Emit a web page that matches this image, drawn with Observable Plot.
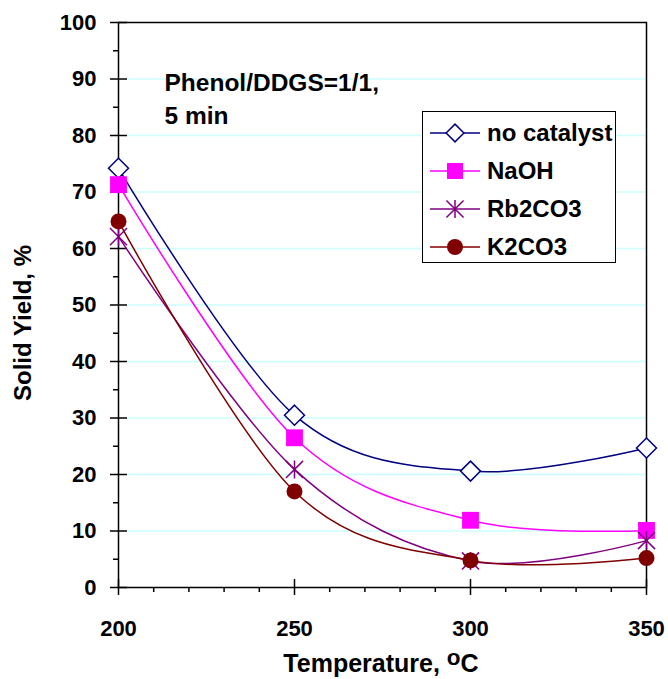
<!DOCTYPE html>
<html>
<head>
<meta charset="utf-8">
<script src="https://cdn.jsdelivr.net/npm/d3@7"></script>
<script src="https://cdn.jsdelivr.net/npm/@observablehq/plot@0.6"></script>
<style>
  html, body { margin: 0; padding: 0; background: #fff; }
  #wrap { position: relative; width: 668px; height: 679px; font-family: "Liberation Sans", Arial, sans-serif; font-weight: bold; color: #000; }
  #wrap > svg { position: absolute; left: 0; top: 0; }
  .lbl { position: absolute; white-space: nowrap; font-size: 24px; line-height: 24px; }
  #legend { position: absolute; left: 422px; top: 111px; width: 194px; height: 152px; border: 1px solid #000; background: #fff; box-sizing: border-box; }
  .row { position: absolute; left: 6px; height: 30px; display: flex; align-items: center; font-size: 24px; white-space: nowrap; }
  .row svg { display: block; margin-right: 6px; }
</style>
</head>
<body>
<div id="wrap"></div>
<script>
// ---- data ----
const temperatures = [200, 250, 300, 350];
const seriesNames = ["no catalyst", "NaOH", "Rb2CO3", "K2CO3"];
const noCatalyst = [74.2, 30.5, 20.6, 24.7];
const naoh = [71.3, 26.5, 11.9, 10.1];
const rb2co3 = [62.1, 20.9, 4.7, 8.3];
const k2co3 = [64.8, 17.0, 4.8, 5.2];
const yTicks = [0, 10, 20, 30, 40, 50, 60, 70, 80, 90, 100];
const yMinorTicks = [5, 15, 25, 35, 45, 55, 65, 75, 85, 95];
const gridTicks = [10, 20, 30, 40, 50, 60, 70, 80, 90];
const xTicks = [200, 250, 300, 350];
const xMinorTicks = [210, 220, 230, 240, 260, 270, 280, 290, 310, 320, 330, 340];
const annotation = "Phenol/DDGS=1/1,\n5 min";

const seriesValues = [noCatalyst, naoh, rb2co3, k2co3];
const colors = ["#000080", "#ff00ff", "#800080", "#800000"];

const rows = [];
seriesNames.forEach((s, i) => temperatures.forEach((t, j) => rows.push({series: s, t, v: seriesValues[i][j]})));
const bySeries = s => rows.filter(d => d.series === s);

// Excel-like star marker: X plus vertical bar
const star = {
  draw(ctx, size) {
    const r = Math.sqrt(size / Math.PI);
    const d = r * 0.95;
    ctx.moveTo(0, -r); ctx.lineTo(0, r);
    ctx.moveTo(-d, -d); ctx.lineTo(d, d);
    ctx.moveTo(-d, d); ctx.lineTo(d, -d);
  }
};

const marks = [
  Plot.gridY({ticks: gridTicks, stroke: "#ccffff", strokeOpacity: 1, strokeWidth: 1.5, insetLeft: 9}),
  Plot.frame({stroke: "#000", strokeWidth: 1.5}),
  // y major ticks crossing the axis
  Plot.axisY({ticks: yTicks, tickSize: 17, dx: 9, strokeWidth: 1.5, tickFormat: () => "", label: null}),
  Plot.axisY({ticks: yMinorTicks, tickSize: 5, strokeWidth: 1.5, tickFormat: () => "", label: null}),
  Plot.axisY({ticks: yTicks, tickSize: 0, tickPadding: 22, fontSize: 22, label: null}),
  // x ticks
  Plot.axisX({ticks: xTicks, tickSize: 16, dy: -8, strokeWidth: 1.5, tickFormat: () => "", label: null}),
  Plot.axisX({ticks: xMinorTicks, tickSize: 5, strokeWidth: 1.5, tickFormat: () => "", label: null}),
  Plot.axisX({ticks: xTicks, tickSize: 0, tickPadding: 33, fontSize: 22, label: null}),
  Plot.text([annotation], {frameAnchor: "top-left", dx: 46, dy: 46, lineAnchor: "top", textAnchor: "start", fontSize: 24.5, fontWeight: "bold", lineHeight: 1.32}),
];
seriesNames.forEach((s, i) => {
  marks.push(Plot.line(bySeries(s), {x: "t", y: "v", stroke: colors[i], strokeWidth: 1.5, curve: "cardinal"}));
});
marks.push(Plot.dot(bySeries("no catalyst"), {x: "t", y: "v", symbol: "diamond2", r: 9, fill: "#fff", stroke: colors[0], strokeWidth: 1.5}));
marks.push(Plot.dot(bySeries("NaOH"), {x: "t", y: "v", symbol: "square", r: 9.5, fill: colors[1], stroke: "none"}));
marks.push(Plot.dot(bySeries("Rb2CO3"), {x: "t", y: "v", symbol: star, r: 9, fill: "none", stroke: colors[2], strokeWidth: 1.5}));
marks.push(Plot.dot(bySeries("K2CO3"), {x: "t", y: "v", symbol: "circle", r: 8, fill: colors[3], stroke: "none"}));

const chart = Plot.plot({
  width: 668,
  height: 679,
  marginLeft: 118,
  marginRight: 22,
  marginTop: 22,
  marginBottom: 92,
  style: {fontFamily: "'Liberation Sans', Arial, sans-serif", fontWeight: "bold", fontSize: "22px", color: "#000", background: "transparent"},
  x: {domain: [200, 350], axis: null},
  y: {domain: [0, 100], axis: null},
  marks
});

const wrap = document.getElementById("wrap");
wrap.appendChild(chart);

// axis titles
const xl = document.createElement("div");
xl.className = "lbl";
xl.style.fontSize = "25px"; xl.style.lineHeight = "25px";
xl.style.left = "381px"; xl.style.top = "651px"; xl.style.transform = "translateX(-50%)";
xl.innerHTML = 'Temperature, <span style="position:relative;top:-0.3em;font-size:0.9em">o</span>C';
wrap.appendChild(xl);

const yl = document.createElement("div");
yl.className = "lbl";
yl.style.left = "23px"; yl.style.top = "323px"; yl.style.transform = "translate(-50%,-50%) rotate(-90deg)";
yl.textContent = "Solid Yield, %";
wrap.appendChild(yl);

// legend
const legend = document.createElement("div");
legend.id = "legend";
const symbolTypes = [d3.symbolDiamond2, d3.symbolSquare, star, d3.symbolCircle];
const symbolR = [8, 9, 9, 8];
seriesNames.forEach((s, i) => {
  const row = document.createElement("div");
  row.className = "row";
  row.style.top = (6 + i * 38) + "px";
  const sv = d3.create("svg").attr("width", 52).attr("height", 30);
  sv.append("line").attr("x1", 1).attr("x2", 51).attr("y1", 15).attr("y2", 15).attr("stroke", colors[i]).attr("stroke-width", 1.5);
  const p = sv.append("path").attr("transform", "translate(26,15)")
    .attr("d", d3.symbol(symbolTypes[i], Math.PI * symbolR[i] * symbolR[i])());
  if (i === 0) p.attr("fill", "#fff").attr("stroke", colors[0]).attr("stroke-width", 1.5);
  else if (i === 2) p.attr("fill", "none").attr("stroke", colors[2]).attr("stroke-width", 1.5);
  else p.attr("fill", colors[i]);
  row.appendChild(sv.node());
  const t = document.createElement("span");
  t.textContent = s;
  row.appendChild(t);
  legend.appendChild(row);
});
wrap.appendChild(legend);
</script>
</body>
</html>
